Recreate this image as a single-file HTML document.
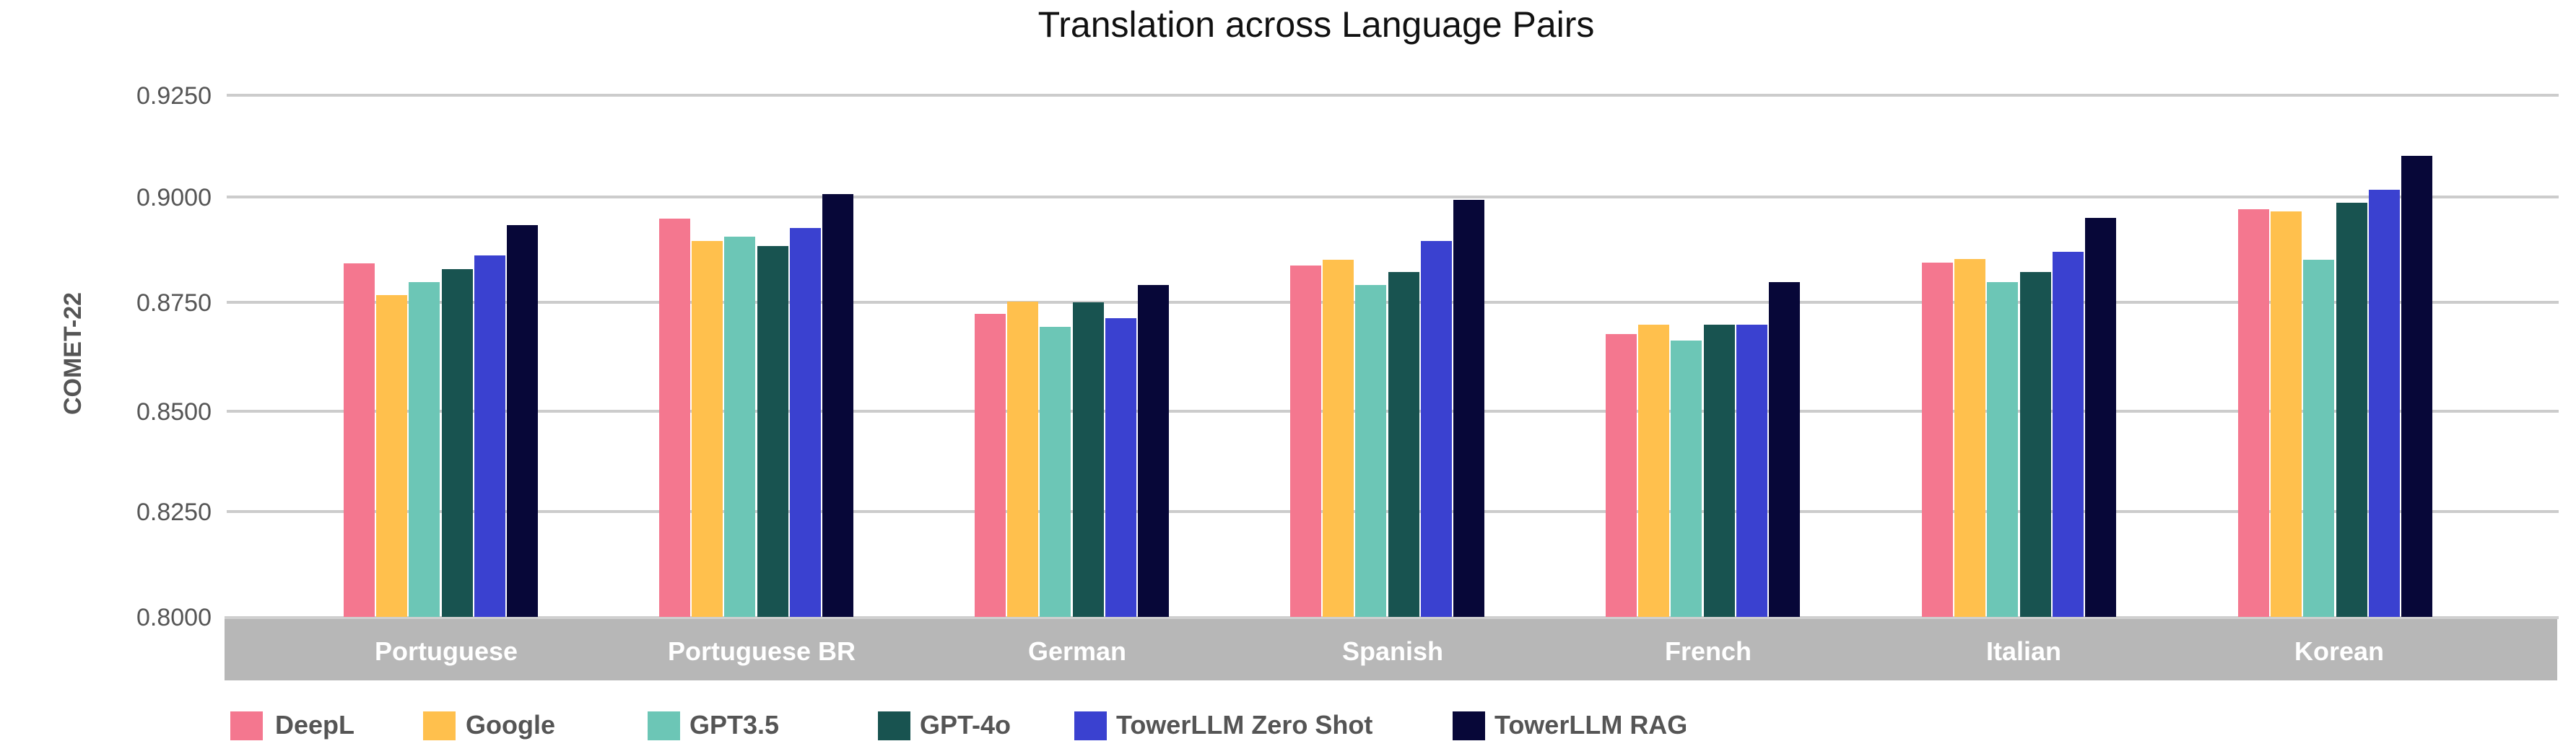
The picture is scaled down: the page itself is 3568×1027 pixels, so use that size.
<!DOCTYPE html>
<html><head><meta charset="utf-8"><style>html,body{margin:0;padding:0;background:#fff}svg{display:block}</style></head>
<body>
<svg width="3568" height="1027" xmlns="http://www.w3.org/2000/svg" font-family="Liberation Sans, sans-serif">
<text x="1823" y="51" font-size="50" text-anchor="middle" fill="#111">Translation across Language Pairs</text>
<g stroke="#cccccc" stroke-width="4">
<line x1="314" x2="3544" y1="132" y2="132"/>
<line x1="314" x2="3544" y1="273" y2="273"/>
<line x1="314" x2="3544" y1="419" y2="419"/>
<line x1="314" x2="3544" y1="570" y2="570"/>
<line x1="314" x2="3544" y1="709" y2="709"/>
</g>
<g font-size="34" fill="#555" text-anchor="end">
<text x="293" y="144">0.9250</text>
<text x="293" y="285">0.9000</text>
<text x="293" y="431">0.8750</text>
<text x="293" y="582">0.8500</text>
<text x="293" y="721">0.8250</text>
<text x="293" y="867">0.8000</text>
</g>
<text transform="translate(112,490) rotate(-90)" font-size="34" font-weight="bold" fill="#555" text-anchor="middle">COMET-22</text>
<rect x="311" y="856" width="3231" height="87" fill="#b7b7b7"/>
<line x1="311" x2="3544" y1="856" y2="856" stroke="#cfcfcf" stroke-width="4"/>
<g id="bars"></g>
<g font-size="36" font-weight="bold" fill="#fff" text-anchor="middle">
<text x="618" y="915">Portuguese</text>
<text x="1055" y="915">Portuguese BR</text>
<text x="1492" y="915">German</text>
<text x="1929" y="915">Spanish</text>
<text x="2366" y="915">French</text>
<text x="2803" y="915">Italian</text>
<text x="3240" y="915">Korean</text>
</g>
<g font-size="36" font-weight="bold" fill="#555">
<rect x="319" y="986" width="45" height="40" fill="#f4778f"/><text x="381" y="1017">DeepL</text>
<rect x="586" y="986" width="45" height="40" fill="#ffc04d"/><text x="645" y="1017">Google</text>
<rect x="897" y="986" width="45" height="40" fill="#6cc6b6"/><text x="955" y="1017">GPT3.5</text>
<rect x="1216" y="986" width="45" height="40" fill="#185350"/><text x="1274" y="1017">GPT-4o</text>
<rect x="1488" y="986" width="45" height="40" fill="#3a41d0"/><text x="1546" y="1017">TowerLLM Zero Shot</text>
<rect x="2012" y="986" width="45" height="40" fill="#070738"/><text x="2070" y="1017">TowerLLM RAG</text>
</g>
<g>
<!-- Portuguese g=476 -->
<rect x="476" y="365" width="43" height="490" fill="#f4778f"/>
<rect x="521" y="409" width="43" height="446" fill="#ffc04d"/>
<rect x="566" y="391" width="43" height="464" fill="#6cc6b6"/>
<rect x="612" y="373" width="43" height="482" fill="#185350"/>
<rect x="657" y="354" width="43" height="501" fill="#3a41d0"/>
<rect x="702" y="312" width="43" height="543" fill="#070738"/>
<!-- PBR g=913 -->
<rect x="913" y="303" width="43" height="552" fill="#f4778f"/>
<rect x="958" y="334" width="43" height="521" fill="#ffc04d"/>
<rect x="1003" y="328" width="43" height="527" fill="#6cc6b6"/>
<rect x="1049" y="341" width="43" height="514" fill="#185350"/>
<rect x="1094" y="316" width="43" height="539" fill="#3a41d0"/>
<rect x="1139" y="269" width="43" height="586" fill="#070738"/>
<!-- German g=1350 -->
<rect x="1350" y="435" width="43" height="420" fill="#f4778f"/>
<rect x="1395" y="418" width="43" height="437" fill="#ffc04d"/>
<rect x="1440" y="453" width="43" height="402" fill="#6cc6b6"/>
<rect x="1486" y="419" width="43" height="436" fill="#185350"/>
<rect x="1531" y="441" width="43" height="414" fill="#3a41d0"/>
<rect x="1576" y="395" width="43" height="460" fill="#070738"/>
<!-- Spanish g=1787 -->
<rect x="1787" y="368" width="43" height="487" fill="#f4778f"/>
<rect x="1832" y="360" width="43" height="495" fill="#ffc04d"/>
<rect x="1877" y="395" width="43" height="460" fill="#6cc6b6"/>
<rect x="1923" y="377" width="43" height="478" fill="#185350"/>
<rect x="1968" y="334" width="43" height="521" fill="#3a41d0"/>
<rect x="2013" y="277" width="43" height="578" fill="#070738"/>
<!-- French g=2224 -->
<rect x="2224" y="463" width="43" height="392" fill="#f4778f"/>
<rect x="2269" y="450" width="43" height="405" fill="#ffc04d"/>
<rect x="2314" y="472" width="43" height="383" fill="#6cc6b6"/>
<rect x="2360" y="450" width="43" height="405" fill="#185350"/>
<rect x="2405" y="450" width="43" height="405" fill="#3a41d0"/>
<rect x="2450" y="391" width="43" height="464" fill="#070738"/>
<!-- Italian g=2662 -->
<rect x="2662" y="364" width="43" height="491" fill="#f4778f"/>
<rect x="2707" y="359" width="43" height="496" fill="#ffc04d"/>
<rect x="2752" y="391" width="43" height="464" fill="#6cc6b6"/>
<rect x="2798" y="377" width="43" height="478" fill="#185350"/>
<rect x="2843" y="349" width="43" height="506" fill="#3a41d0"/>
<rect x="2888" y="302" width="43" height="553" fill="#070738"/>
<!-- Korean g=3100 -->
<rect x="3100" y="290" width="43" height="565" fill="#f4778f"/>
<rect x="3145" y="293" width="43" height="562" fill="#ffc04d"/>
<rect x="3190" y="360" width="43" height="495" fill="#6cc6b6"/>
<rect x="3236" y="281" width="43" height="574" fill="#185350"/>
<rect x="3281" y="263" width="43" height="592" fill="#3a41d0"/>
<rect x="3326" y="216" width="43" height="639" fill="#070738"/>
</g>
</svg>
</body></html>
